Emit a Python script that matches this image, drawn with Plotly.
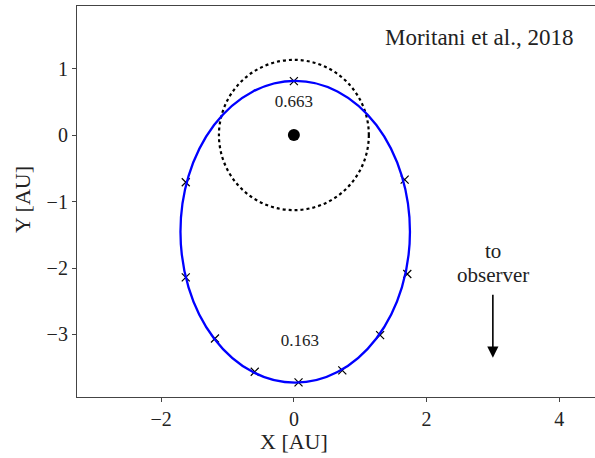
import numpy as np
import plotly.graph_objects as go

# Orbit crosses (X, Y in AU)
cross_x = [0.0, 1.67, 1.71, 1.30, 0.73, 0.07, -0.59, -1.19, -1.63, -1.63]
cross_y = [0.81, -0.67, -2.09, -3.01, -3.54, -3.72, -3.56, -3.06, -2.14, -0.71]

# Orbit ellipse parameters
ell_cx, ell_cy = 0.02, -1.455
ell_a, ell_b = 2.27, 1.73  # semi-major (y), semi-minor (x)

# 1 AU circle
circ_r = 1.13

# Phase labels
phase_text = ["0.663", "0.163"]
phase_x = [0.0, 0.09]
phase_y = [0.48, -3.11]

# Observer label lines
obs_text = ["to", "observer"]
obs_y = [-1.75, -2.11]

FONT = "Liberation Serif"
TXT = "#222222"

L, R, T, B = 77, 0, 6, 61
W, H = 595, 458
PW, PH = W - L - R, H - T - B

fig = go.Figure()

fig.add_shape(type="circle", xref="x", yref="y",
              x0=-circ_r, x1=circ_r, y0=-circ_r, y1=circ_r,
              line=dict(color="black", width=2.2, dash="dot"))
fig.add_shape(type="circle", xref="x", yref="y",
              x0=ell_cx - ell_b, x1=ell_cx + ell_b,
              y0=ell_cy - ell_a, y1=ell_cy + ell_a,
              line=dict(color="#0000ff", width=2.3))

fig.add_trace(go.Scatter(x=cross_x, y=cross_y, mode="markers",
                         marker=dict(symbol="x-thin", size=8, color="black",
                                     line=dict(width=1.2, color="black")),
                         showlegend=False, hoverinfo="skip"))
fig.add_trace(go.Scatter(x=[0], y=[0], mode="markers",
                         marker=dict(symbol="circle", size=12, color="black"),
                         showlegend=False, hoverinfo="skip"))
fig.add_trace(go.Scatter(x=phase_x, y=phase_y, mode="text", text=phase_text,
                         textfont=dict(family=FONT, size=17, color=TXT),
                         showlegend=False, hoverinfo="skip"))

fig.add_annotation(x=3.0, y=-3.35, ax=3.0, ay=-2.38, xref="x", yref="y",
                   axref="x", ayref="y", showarrow=True, arrowhead=2,
                   arrowsize=1.4, arrowwidth=1.6, arrowcolor="black", text="")
for t, yv in zip(obs_text, obs_y):
    fig.add_annotation(x=3.0, y=yv, xref="x", yref="y", showarrow=False,
                       text=t, xanchor="center", yanchor="middle",
                       font=dict(family=FONT, size=21, color=TXT))
fig.add_annotation(x=(479 - L) / PW, y=1 - (38 - T) / PH,
                   xref="paper", yref="paper", showarrow=False,
                   xanchor="center", yanchor="middle",
                   text="Moritani et al., 2018",
                   font=dict(family=FONT, size=23, color=TXT))
# axis titles
fig.add_annotation(x=(294 - L) / PW, y=-(441 - T - PH) / PH,
                   xref="paper", yref="paper", showarrow=False,
                   xanchor="center", yanchor="middle",
                   text="X [AU]", font=dict(family=FONT, size=22, color=TXT))
fig.add_annotation(x=-(L - 22) / PW, y=1 - (200 - T) / PH,
                   xref="paper", yref="paper", showarrow=False, textangle=-90,
                   xanchor="center", yanchor="middle",
                   text="Y [AU]", font=dict(family=FONT, size=22, color=TXT))

fig.update_layout(
    width=W, height=H,
    margin=dict(l=L, r=R, t=T, b=B),
    plot_bgcolor="white", paper_bgcolor="white",
    font=dict(family=FONT, size=20, color=TXT),
    xaxis=dict(range=[-3.27, 4.54], tickvals=[-2, 0, 2, 4],
               ticktext=["\u22122", "0", "2", "4"], automargin=False,
               showgrid=False, zeroline=False, showline=True, mirror=True,
               linecolor="#444", linewidth=1.2, ticks="outside", ticklen=4,
               tickcolor="#444"),
    yaxis=dict(range=[-3.94, 1.94], tickvals=[1, 0, -1, -2, -3],
               ticktext=["1", "0", "\u22121", "\u22122", "\u22123"],
               automargin=False,
               showgrid=False, zeroline=False, showline=True, mirror=False,
               linecolor="#444", linewidth=1.2, ticks="outside", ticklen=4,
               tickcolor="#444"),
)

fig.write_html("out.html", config={"displayModeBar": False},
               post_script="document.body.style.margin='0';"
                           "document.body.style.overflow='hidden';")
